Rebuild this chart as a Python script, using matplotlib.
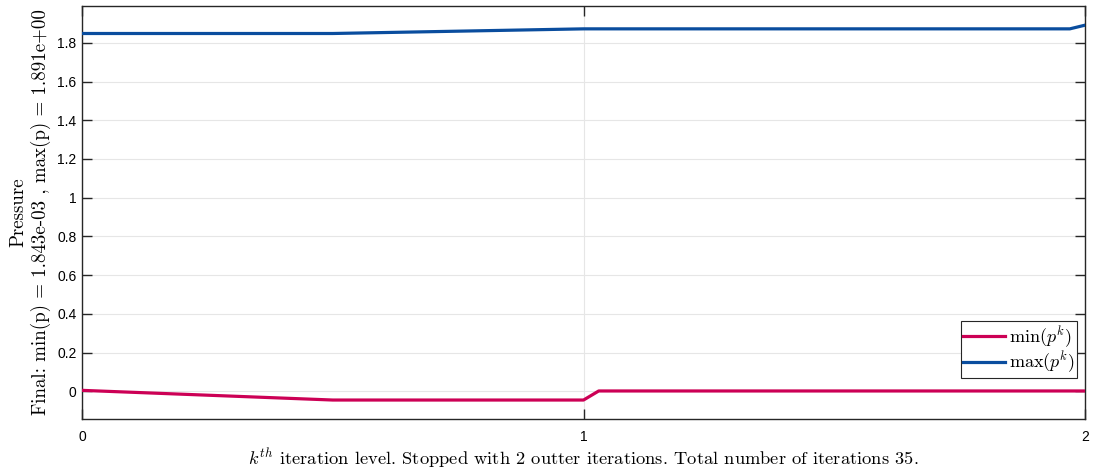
import numpy as np
import matplotlib
matplotlib.use("Agg")
import matplotlib.pyplot as plt

plt.rcParams['mathtext.fontset'] = 'cm'
plt.rcParams['axes.unicode_minus'] = False

# iteration levels (outer iteration 0 -> 1 -> 2)
x_level = [0.0, 0.5, 1.0,
           1.0303, 1.0606, 1.0909, 1.1212, 1.1515, 1.1818, 1.2121, 1.2424,
           1.2727, 1.3030, 1.3333, 1.3636, 1.3939, 1.4242, 1.4545, 1.4848,
           1.5152, 1.5455, 1.5758, 1.6061, 1.6364, 1.6667, 1.6970, 1.7273,
           1.7576, 1.7879, 1.8182, 1.8485, 1.8788, 1.9091, 1.9394, 1.9697, 2.0]

p_min = [0.005, -0.045, -0.045,
         0.0018, 0.0018, 0.0018, 0.0018, 0.0018, 0.0018, 0.0018, 0.0018,
         0.0018, 0.0018, 0.0018, 0.0018, 0.0018, 0.0018, 0.0018, 0.0018,
         0.0018, 0.0018, 0.0018, 0.0018, 0.0018, 0.0018, 0.0018, 0.0018,
         0.0018, 0.0018, 0.0018, 0.0018, 0.0018, 0.0018, 0.0018, 0.0018, 0.0018]

p_max = [1.848, 1.848, 1.872,
         1.872, 1.872, 1.872, 1.872, 1.872, 1.872, 1.872, 1.872,
         1.872, 1.872, 1.872, 1.872, 1.872, 1.872, 1.872, 1.872,
         1.872, 1.872, 1.872, 1.872, 1.872, 1.872, 1.872, 1.872,
         1.872, 1.872, 1.872, 1.872, 1.872, 1.872, 1.872, 1.872, 1.891]

xticks = [0, 1, 2]
yticks = [0, 0.2, 0.4, 0.6, 0.8, 1, 1.2, 1.4, 1.6, 1.8]
yticklabels = ['0', '0.2', '0.4', '0.6', '0.8', '1', '1.2', '1.4', '1.6', '1.8']

fig = plt.figure(figsize=(10.95, 4.69), dpi=100)
ax = fig.add_axes([0.0749, 0.1066, 0.916, 0.8806])

ax.plot(x_level, p_min, color='#CC0055', lw=2.3, label=r'$\min(p^k)$', zorder=3)
ax.plot(x_level, p_max, color='#0A4D9E', lw=2.3, label=r'$\max(p^k)$', zorder=3)

ax.set_xlim(0, 2)
ax.set_ylim(-0.143, 1.99)
ax.set_xticks(xticks)
ax.set_xticklabels(['0', '1', '2'])
ax.set_yticks(yticks)
ax.set_yticklabels(yticklabels)

ax.grid(True, color='#E6E6E6', lw=0.8, zorder=0)
ax.set_axisbelow(True)
ax.tick_params(direction='in', length=7, width=1, color='#262626',
               top=True, right=True, labelsize=10)
ax.tick_params(axis='x', pad=8)
ax.tick_params(axis='y', pad=4)
for lab in ax.get_xticklabels() + ax.get_yticklabels():
    lab.set_fontfamily('Liberation Sans')
for s in ax.spines.values():
    s.set_color('#262626')
    s.set_linewidth(1)

ax.set_xlabel(r'$k^{th}$ iteration level. Stopped with 2 outter iterations. Total number of iterations 35.',
              fontfamily='cmr10', fontsize=13.3, labelpad=2)
ax.set_ylabel('Pressure\nFinal: min(p) = 1.843e-03 , max(p) = 1.891e+00',
              fontfamily='cmr10', fontsize=13.6, linespacing=1.25)
ax.yaxis.set_label_coords(-0.031, 0.5)

leg = ax.legend(loc='lower right', bbox_to_anchor=(0.992, 0.099), borderaxespad=0,
                fontsize=13, fancybox=False, framealpha=1,
                edgecolor='#262626', handlelength=2.3, borderpad=0.15,
                labelspacing=0.0, handletextpad=0.2)
leg.get_frame().set_linewidth(0.8)

fig.savefig('out.png', dpi=100)
